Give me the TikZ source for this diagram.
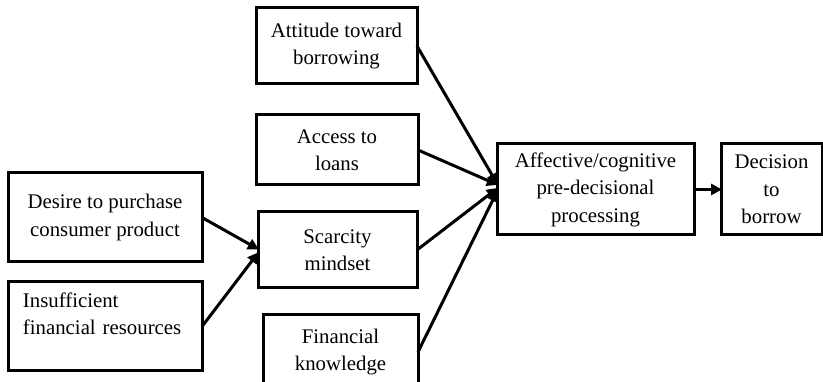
\documentclass[tikz,border=0pt]{standalone}
\usepackage{fontspec}
\setmainfont{Liberation Serif}
\usetikzlibrary{arrows.meta,calc}
\begin{document}
\begin{tikzpicture}[x=1pt,y=-1pt,
  box/.style={draw=black,line width=3pt,rectangle,inner sep=0pt,outer sep=0pt,
    align=center,font=\fontsize{20.8}{27.5}\selectfont},
  arr/.style={line width=3pt,-{Triangle[length=11pt,width=11pt]},shorten >=-1pt}]
\clip (0,0) rectangle (823,382);
\useasboundingbox (0,0) rectangle (823,382);
\node[box,minimum width=161pt,minimum height=76pt] (att) at (336.5,46) {Attitude toward\\borrowing};
\node[box,minimum width=162pt,minimum height=70pt] (acc) at (337,150) {Access to\\loans};
\node[box,minimum width=159pt,minimum height=76pt] (sca) at (337.5,250) {Scarcity\\mindset};
\node[box,minimum width=155pt,minimum height=74pt] (fin) at (340.5,352) {Financial\\knowledge};
\node[box,minimum width=194pt,minimum height=89pt] (des) at (105,217.5) {Desire to purchase\\consumer product};
\node[box,minimum width=194pt,minimum height=89pt,align=left,text width=164pt] (ins) at (105,326.5) {Insufficient\\financial resources\\[-10pt]\strut};
\node[box,minimum width=197pt,minimum height=91pt] (aff) at (595.5,189.5) {Affective/cognitive\\pre-decisional\\processing};
\node[box,minimum width=101pt,minimum height=91pt] (dec) at (771.5,189.5) {Decision\\to\\borrow};
\coordinate (a1) at ($(aff.west)+(0,-6)$);
\coordinate (a2) at ($(aff.west)+(0,-5)$);
\coordinate (a3) at ($(aff.west)+(0,-1)$);
\coordinate (a4) at ($(aff.west)+(0,2)$);
\coordinate (s1) at ($(sca.west)+(0,-1)$);
\coordinate (s2) at ($(sca.west)+(0,3)$);
\draw[arr] (att.east) -- (a1);
\draw[arr] (acc.east) -- (a2);
\draw[arr] (sca.east) -- (a3);
\draw[arr] (fin.east) -- (a4);
\draw[arr] (des.east) -- (s1);
\draw[arr] (ins.east) -- (s2);
\draw[arr] (aff.east) -- (dec.west);
\end{tikzpicture}
\end{document}
